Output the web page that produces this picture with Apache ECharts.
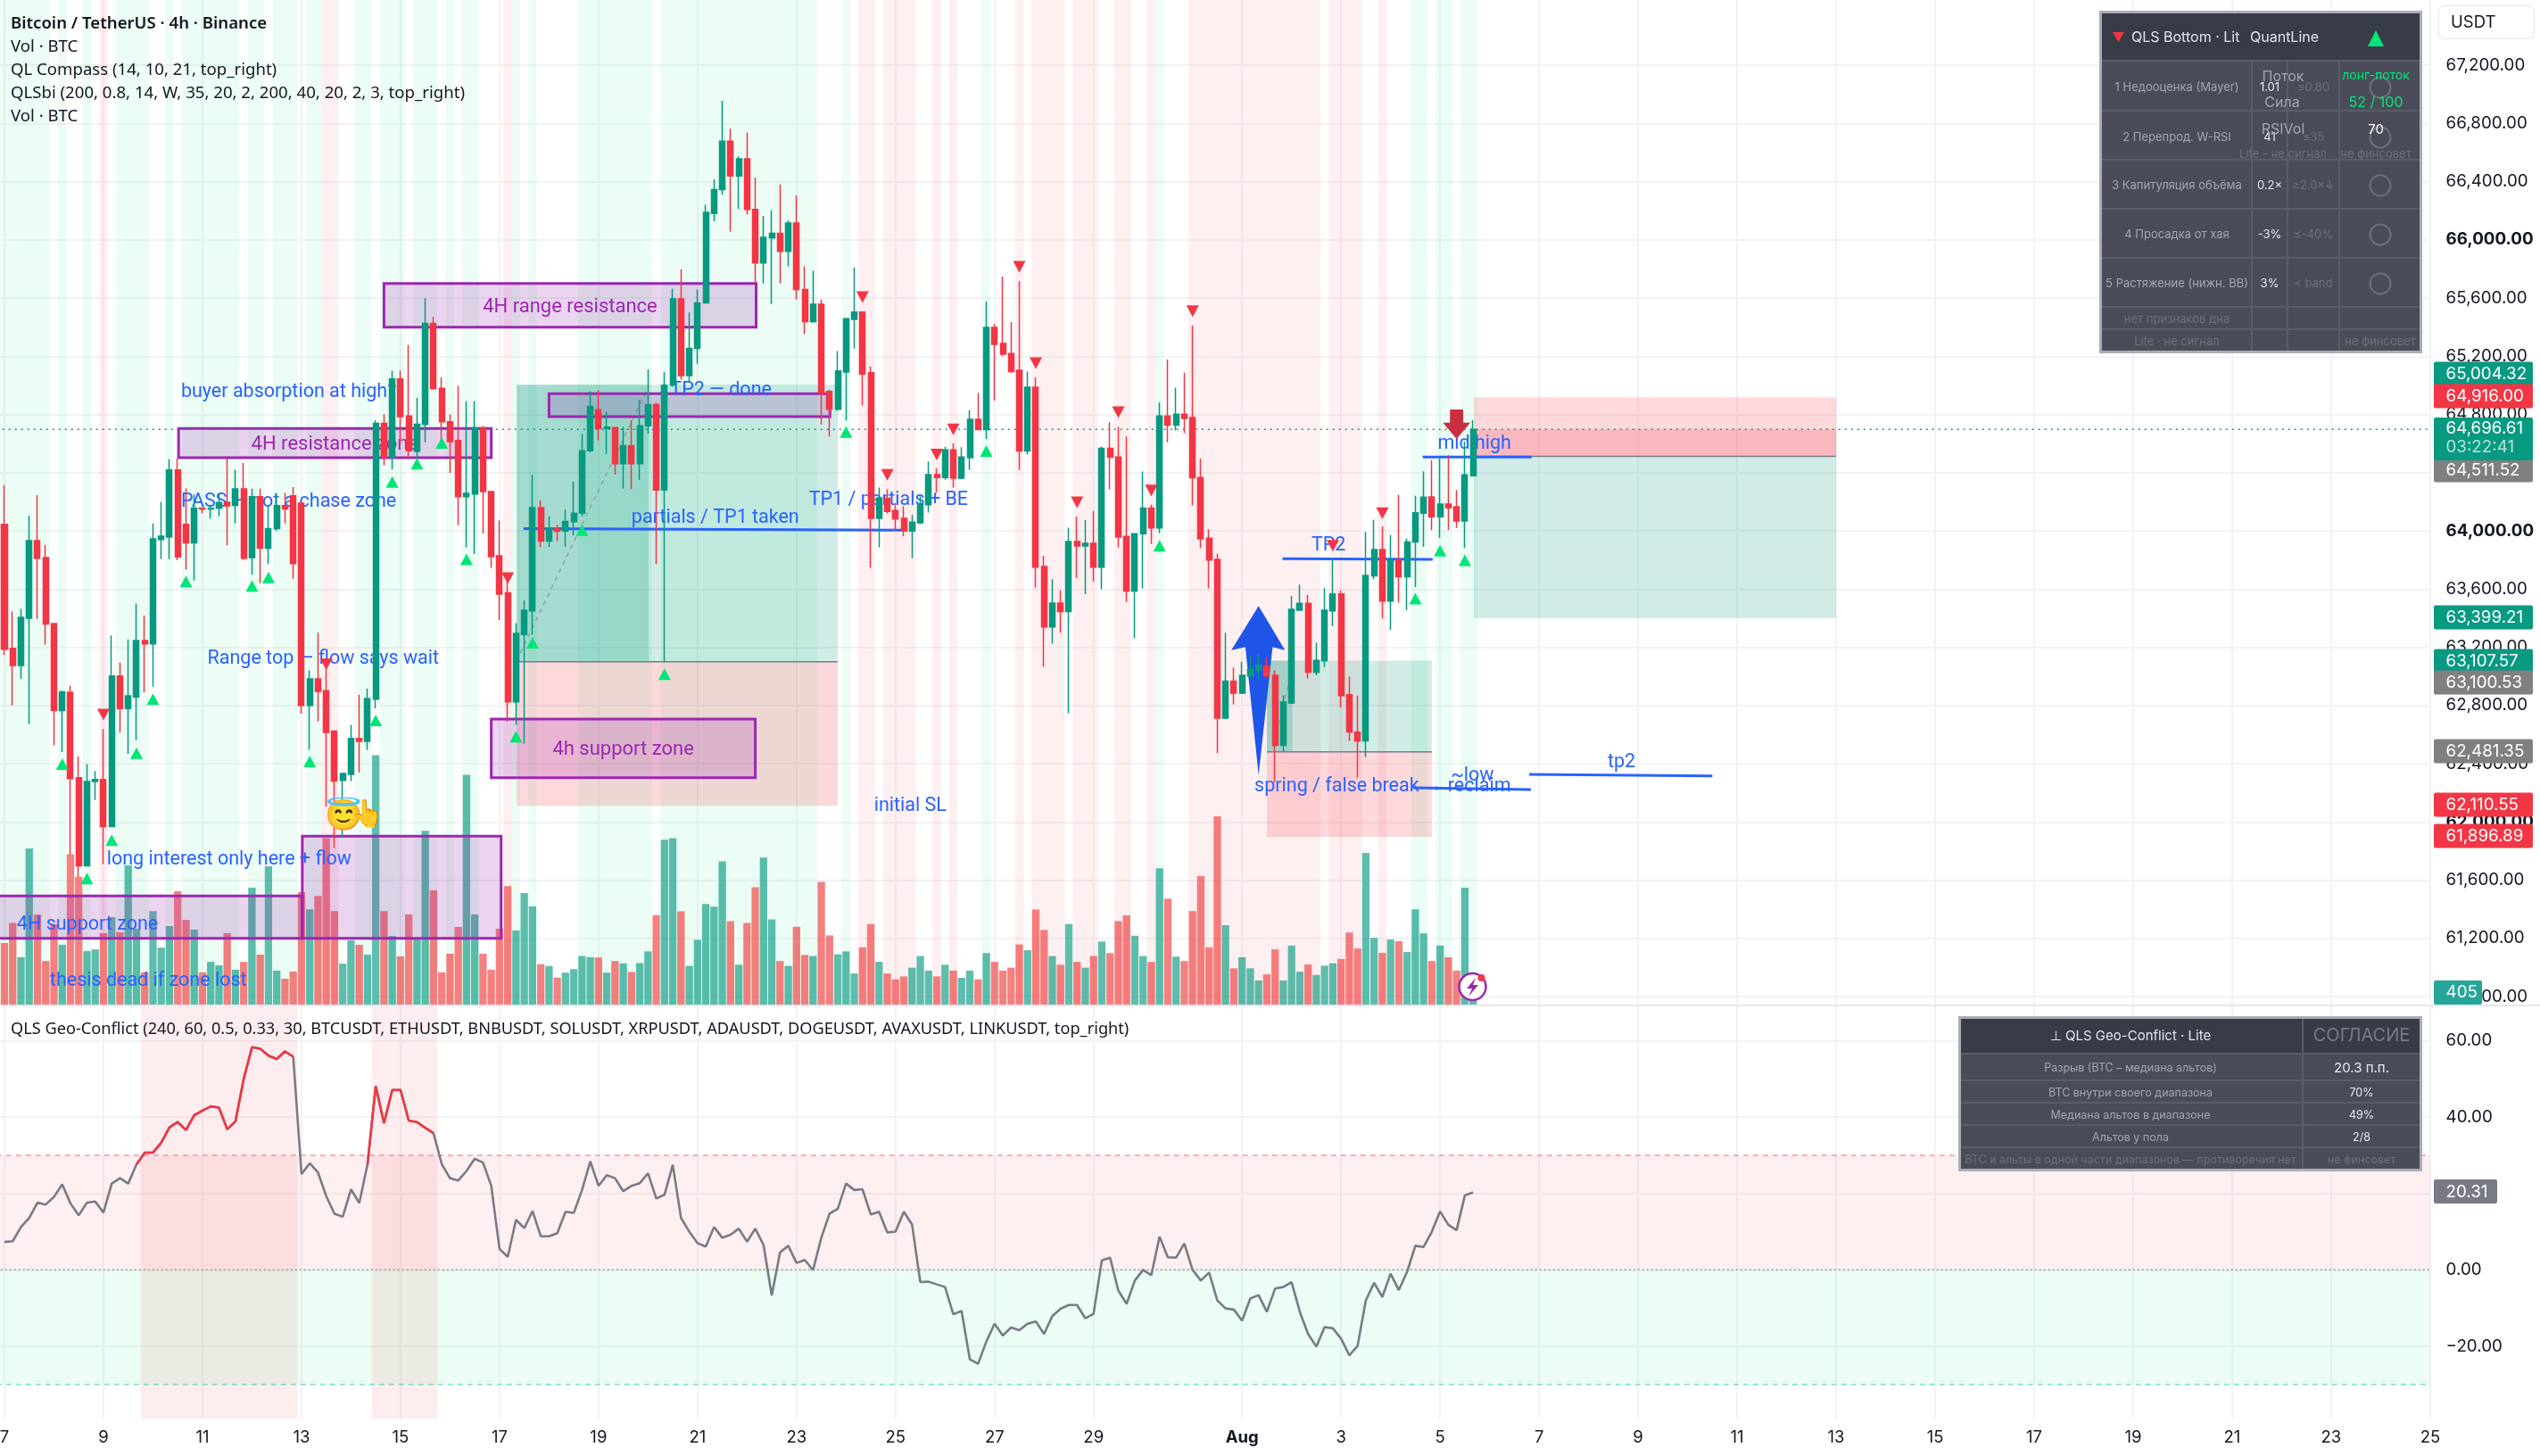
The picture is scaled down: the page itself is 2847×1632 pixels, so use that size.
<!DOCTYPE html>
<html><head><meta charset="utf-8"><style>html,body{margin:0;padding:0;background:#fff}#c{width:2847px;height:1632px}</style>
<script src="https://cdn.jsdelivr.net/npm/echarts@6/dist/echarts.min.js"></script></head><body><div id="c"></div><script>
const opens=[64044,63192,63075,63399,63933,63816,63363,62765,62890,62303,
61698,62277,62291,61968,63002,62779,62859,63246,63223,63941,
63957,64419,64044,63917,64156,64150,64156,64196,64175,64288,
63816,64234,63880,64016,64173,64240,64190,62800,62983,62901,
62624,62285,62327,62573,62554,62843,64738,64504,65043,64790,
64546,64731,65425,64980,64750,64620,64234,64253,64708,64270,
63828,63574,62824,63288,63450,64159,63929,64016,63999,64063,
64121,64550,64832,64703,64710,64461,64585,64461,64722,64867,
64280,65001,65594,65067,65254,65566,66181,66345,66678,66439,
66556,66209,65841,66012,66045,65920,66115,65658,65437,65557,
64958,64836,65092,65453,65503,65087,64086,64224,64140,64086,
63999,64055,64180,64386,64367,64557,64362,64503,64766,64696,
65397,65287,65219,65104,64548,64987,63755,63340,63504,63445,
63926,63896,63914,63750,64567,64508,63961,63586,63980,64156,
64020,64790,64726,64801,64778,64367,63950,63804,62713,62967,
62885,63002,63046,63072,63007,62526,62817,63455,63502,63028,
63107,63450,63567,62873,62617,62556,63690,63872,63518,63800,
63685,63924,64121,64233,64097,64184,64165,64067,64379];
const closes=[63187,63075,63406,63933,63811,63359,62765,62894,62298,61698,
62277,62291,61968,63002,62779,62866,63246,63223,63945,63964,
64419,63821,63917,64156,64150,64155,64194,64172,64288,63811,
64234,63880,64016,64173,64150,63774,62800,62983,62897,62615,
62280,62333,62573,62554,62847,64738,64504,65043,64785,64550,
64733,65425,64977,64750,64613,64234,64257,64708,64270,63823,
63565,62824,63295,63455,64159,63929,64016,63997,64065,64121,
64550,64855,64703,64712,64461,64585,64461,64722,64867,64280,
65001,65594,65067,65254,65566,66188,66345,66678,66439,66556,
66209,65841,66017,66045,65920,66115,65658,65437,65557,64947,
64836,65099,65458,65503,65078,64086,64227,64133,64081,63999,
64060,64187,64386,64367,64557,64362,64508,64766,64696,65397,
65282,65214,65094,64548,64987,63750,63340,63504,63445,63926,
63896,63914,63750,64567,64506,63957,63586,63980,64156,64020,
64790,64726,64801,64773,64365,63945,63799,62713,62967,62885,
63007,63049,63075,63002,62526,62824,63460,63502,63028,63110,
63455,63567,62868,62617,62556,63694,63872,63518,63800,63685,
63924,64124,64231,64097,64184,64158,64067,64384,64698];
const highs=[64316,63445,63464,64102,64245,63903,63363,62901,62936,62451,
62397,62350,62638,63281,63096,63253,63500,63417,64051,64199,
64492,64496,64292,64250,64160,64180,64260,64496,64420,64468,
64290,64290,64180,64260,64260,64300,64200,63040,63300,63110,
62630,62340,62667,62873,62917,64760,64800,65101,65102,65278,
64914,65599,65470,65055,64800,64996,64890,64890,64720,64270,
64070,63650,63366,63523,64386,64210,64100,64040,64145,64339,
64667,64960,64966,64820,64710,64715,64760,64900,65109,64880,
65090,65665,65798,65500,65658,66240,66415,66955,66763,66573,
66737,66427,66164,66204,66380,66134,66305,65817,65787,65590,
64970,65235,65463,65810,65505,65130,64297,64285,64190,64168,
64110,64238,64477,64430,64578,64602,64574,64829,64947,65575,
65421,65747,65435,65716,65094,65055,63828,63668,63593,64022,
64097,64074,64137,64578,64747,64714,64649,63985,64407,64180,
64883,65177,64984,65087,65411,64496,64011,63844,63300,63061,
63100,63140,63150,63130,63040,62870,63553,63631,63560,63232,
63607,63807,63591,62997,62868,63994,64077,64030,63971,64248,
63948,64240,64410,64485,64496,64520,64280,64615,64760];
const lows=[63148,62800,62983,62671,63394,63218,62526,62479,61775,61620,
61693,62150,61710,61963,62615,62467,62561,62890,62929,63805,
63805,63797,63734,63659,64120,64085,64100,63900,64050,63800,
63700,63640,63770,64000,64050,63670,62744,62495,62690,62105,
61820,61890,62280,62340,62495,62780,64450,64422,64597,64492,
64492,64609,64977,64621,64398,64040,63887,63840,63980,63745,
63387,62690,62666,62538,63288,63887,63890,63930,63891,63969,
64100,64540,64620,64526,64387,64292,64287,64350,64668,63770,
63100,64990,65040,65020,65148,65560,66127,66310,66056,66211,
66174,65700,65700,65559,65700,65817,65590,65353,65430,64731,
64649,64825,64759,65252,64860,63746,63886,64120,64000,63961,
63811,64046,64126,64262,64351,64297,64355,64419,64696,64632,
64895,65200,65085,64419,64524,63610,63065,63225,63300,62746,
63675,63565,63652,63598,64285,63886,63511,63265,63605,63910,
63985,64609,64689,64672,64175,63882,63605,62472,62706,62807,
62885,62995,62983,62995,62270,62481,62810,63455,62986,63009,
63063,63345,62786,62556,62305,62446,63666,63396,63319,63506,
63455,63614,63891,64004,63952,64004,64020,63882,64379];
const volumes=[2150,2840,1660,5400,3130,1530,2790,2090,5200,4430,
1870,1930,2490,3040,2520,4820,2640,1140,3250,1990,
2730,3930,2950,2610,1140,1500,1380,2490,1230,1500,
4050,1750,4790,1200,920,1170,3900,3310,3770,5760,
3250,1440,2240,2090,1750,8610,3250,2390,1690,3130,
2300,6010,3960,1140,1780,2700,7940,3130,1780,1230,
2640,4110,2580,3870,3410,1420,1360,960,1130,1250,
1700,1660,1650,1130,1530,1450,1150,1460,1860,3110,
5700,5760,3240,1360,2260,3490,3400,4960,2900,1400,
2840,4070,5090,2960,1530,1360,2710,1740,1700,4250,
2410,1760,1860,1100,2000,2800,1500,1100,900,1000,
1300,1700,1200,1000,1400,1200,950,1200,900,1800,
1500,1200,1300,2100,1900,3300,2600,1700,1400,2800,
1500,1300,1700,2200,1800,2900,3100,2400,1700,1500,
4720,3680,1680,1530,3250,4450,2000,6510,2760,1280,
1660,1280,860,1070,1930,860,2060,1160,1410,1050,
1370,1450,1600,2510,1960,5250,2330,1810,2270,2210,
1840,3310,2480,1530,2060,1660,1200,4050,405];
const geoValues=[7.3,7.5,11.2,13.6,17.6,17.1,19.1,22.4,17.4,14.3,17.6,17.9,15.0,22.6,24.0,22.6,27.6,30.7,30.7,
33.3,37.3,38.7,36.6,40.5,41.7,42.8,42.5,36.8,38.9,50.0,58.3,57.9,56.1,55.2,57.2,55.8,25.1,27.9,25.5,
19.3,14.7,13.9,21.1,17.5,27.6,48.1,38.4,47.1,47.1,39.1,38.7,37.2,35.8,27.7,24.0,23.4,25.9,29.1,28.1,
22.0,5.5,3.4,13.1,10.9,15.4,8.8,8.8,9.6,15.2,14.9,20.9,28.4,22.0,24.8,24.0,20.6,22.0,22.7,25.3,
18.7,19.7,27.5,13.6,10.0,7.0,6.1,11.2,8.4,9.2,10.8,7.4,10.8,6.5,-6.7,4.6,6.3,1.8,2.6,-0.1,
8.4,14.7,16.0,22.6,20.9,21.1,14.5,15.2,9.8,10.0,15.2,11.9,-3.2,-3.1,-3.8,-4.5,-11.6,-10.8,-23.4,-24.6,
-18.8,-14.1,-17.2,-15.1,-15.8,-14.1,-13.5,-16.8,-12.1,-10.2,-9.2,-9.2,-12.7,-11.5,2.5,3.2,-5.4,-8.9,-2.8,0.0,
-1.4,8.7,3.3,3.2,6.9,0.0,-2.8,-0.7,-8.0,-10.1,-10.4,-13.3,-7.5,-6.6,-11.0,-4.9,-4.5,-3.2,-11.0,-16.8,
-20.1,-15.0,-15.3,-18.0,-22.4,-19.9,-8.0,-3.4,-7.1,-1.0,-5.3,-0.5,6.3,6.0,10.0,15.3,11.8,10.4,19.5,20.31];
const geoRedRanges=[[16,35],[44,52]];
const geoPinkBlocks=[[17,35],[45,52]];
const greenBands=[[0,5],[7,7],[10,10],[14,17],[20,20],[22,28],[30,31],[33,35],[37,38],[43,44],[46,48],[50,52],[54,54],[56,57],[62,62],[64,64],[70,78],[80,98],[102,102],[119,119],[140,140],[171,172],[174,175],[177,178]];
const redBands=[[12,12],[39,40],[61,61],[104,105],[107,110],[113,113],[115,115],[123,123],[125,128],[130,132],[135,136],[139,139],[144,159],[161,164],[167,167]];
const upMarkers=[[7,62397],[10,61611],[13,61874],[16,62472],[18,62843],[22,63652],[30,63621],[32,63680],[37,62416],[45,62697],[47,64335],[50,64461],[53,64604],[56,63804],[62,62585],[64,63230],[70,64004],[80,63014],[102,64679],[119,64548],[140,63898],[171,63534],[174,63863],[177,63797]];
const downMarkers=[[12,62737],[39,63084],[61,63675],[104,65606],[107,64384],[113,64524],[115,64698],[123,65815],[125,65153],[130,64196],[135,64815],[139,64278],[144,65510],[161,63898],[167,64121]];
const xTickLabels=[[0,'7'],[12,'9'],[24,'11'],[36,'13'],[48,'15'],[60,'17'],[72,'19'],[84,'21'],[96,'23'],[108,'25'],[120,'27'],[132,'29'],[150,'Aug'],[162,'3'],[174,'5'],[186,'7'],[198,'9'],[210,'11'],[222,'13'],[234,'15'],[246,'17'],[258,'19'],[270,'21'],[282,'23'],[294,'25']];
const priceTicks=[67200,66800,66400,66000,65600,65200,64800,64400,64000,63600,63200,62800,62400,62000,61600,61200,60800];
const geoTicks=[60,40,20,0,-20];
const purpleZones=[[46,91.1,65700,65400,'4H range resistance'],[21.1,59,64703,64503,'4H resistance zone'],[66,100.05,64942,64785,''],[59,91,62706,62303,'4h support zone'],[-2,36.1,61491,61200,''],[36.1,60.2,61902,61200,'']];
const posGreen=[[62.1,101,63100.53,65004.32],[153,173,62481.35,63107.57],[178.1,222,63399.21,64511.52]];
const posRed=[[62.1,101,62110.55,63100.53],[153,173,61896.89,62481.35],[178.1,222,64511.52,64916]];
const posGreenProgress=[[62.1,78.1,63100.53,65004.32],[153,156.1,62481.35,63107.57]];
const posRedProgress=[[178.1,222,64511.52,64696.61]];
const entryLines=[[62.1,63100.53,101,63100.53],[153,62481.35,173,62481.35],[178.1,64511.52,222,64511.52]];
const blueLines=[[62.9,64016,108.9,64004],[154.9,63809,173.1,63804],[171.9,64507,185.1,64507],[170.7,62235,185,62223],[184.8,62326,207,62315]];
const pathLines=[[62.5,63159,78.1,64996],[154.1,62610,156.3,63091]];
const noteTexts=[[21.4,64963,'buyer absorption at high?'],[21.4,64208,'PASS — not a chase zone'],[24.6,63130,'Range top — flow says wait'],[12.4,61750,'long interest only here + flow'],[1.5,61303,'4H support zone'],[5.5,60917,'thesis dead if zone lost'],[76,64100,'partials / TP1 taken'],[80.7,64978,'TP2 — done'],[97.5,64226,'TP1 / partials + BE'],[158.4,63910,'TP2'],[173.7,64610,'mid high'],[151.5,62253,'spring / false break → reclaim'],[175.3,62330,'~low'],[194.3,62422,'tp2'],[105.4,62118,'initial SL']];
const blueArrow=[[152,63483],[155.2,63180],[153.7,63202],[152,62322],[150.4,63202],[148.7,63180]];
const redArrow=[[175.2,64834],[176.8,64834],[176.8,64743],[177.66,64743],[176,64632],[174.34,64743],[175.2,64743]];
const currentPrice=64696.61;
const legendLines=['Bitcoin / TetherUS · 4h · Binance','Vol · BTC','QL Compass (14, 10, 21, top_right)','QLSbi (200, 0.8, 14, W, 35, 20, 2, 200, 40, 20, 2, 3, top_right)','Vol · BTC'];
const geoLegend='QLS Geo-Conflict (240, 60, 0.5, 0.33, 30, BTCUSDT, ETHUSDT, BNBUSDT, SOLUSDT, XRPUSDT, ADAUSDT, DOGEUSDT, AVAXUSDT, LINKUSDT, top_right)';
const priceTags=[['65,004.32','#089981',419],['64,916.00','#f23645',444],['64,511.52','#808080',527],['63,399.21','#089981',692],['63,107.57','#089981',741],['63,100.53','#808080',765],['62,481.35','#808080',842],['62,110.55','#f23645',902],['61,896.89','#f23645',937]];
const bottomTableRows=[['1 Недооценка (Mayer)','1.01','≤0.80'],['2 Перепрод. W-RSI','41','≤35'],['3 Капитуляция объёма','0.2×','≥2.0×↓'],['4 Просадка от хая','-3%','≤-40%'],['5 Растяжение (нижн. BB)','3%','< band']];
const geoTableRows=[['Разрыв (BTC – медиана альтов)','20.3 п.п.'],['BTC внутри своего диапазона','70%'],['Медиана альтов в диапазоне','49%'],['Альтов у пола','2/8']];

const N=opens.length, SLOTS=296, STEP=9.248, LEFT=-4.248;
const GREEN='#089981', RED='#f23645', FONT='Inter', NOTE='Roboto';
const AX=18.8;
const cats=Array.from({length:SLOTS},(_,k)=>'');
xTickLabels.forEach(([i,t])=>{cats[i+1]=t});
const isTick=(idx)=>cats[idx]!=='';
const candleData=opens.map((o,i)=>[i+1,o,closes[i],lows[i],highs[i]]);
const volData=volumes.map((v,i)=>({value:[i+1,v],itemStyle:{color:closes[i]>=opens[i]?'rgba(8,153,129,.65)':'rgba(240,60,60,.65)'}}));
const inRange=(i,rs)=>rs.some(([a,b])=>i>=a&&i<=b);
const geoAll=geoValues.map((v,i)=>[i+1,v]);
const geoRed=geoValues.map((v,i)=>[i+1,inRange(i,geoRedRanges)?v:null]);

function rects(name,list,style,z,xi=1,yi=0){return {type:'custom',name,coordinateSystem:'cartesian2d',xAxisIndex:xi,yAxisIndex:yi,silent:true,z,clip:true,animation:false,
 data:list,encode:{x:[0,1],y:[2,3]},
 renderItem:(p,api)=>{const a=api.coord([api.value(0),api.value(2)]),b=api.coord([api.value(1),api.value(3)]);
  return {type:'rect',shape:{x:Math.min(a[0],b[0]),y:Math.min(a[1],b[1]),width:Math.abs(a[0]-b[0]),height:Math.abs(a[1]-b[1])},style}}}}
function lines(name,list,style,z,xi=1,yi=0){return {type:'custom',name,coordinateSystem:'cartesian2d',xAxisIndex:xi,yAxisIndex:yi,silent:true,z,clip:true,animation:false,
 data:list,encode:{x:[0,2],y:[1,3]},
 renderItem:(p,api)=>{const a=api.coord([api.value(0),api.value(1)]),b=api.coord([api.value(2),api.value(3)]);
  return {type:'line',shape:{x1:a[0],y1:a[1],x2:b[0],y2:b[1]},style}}}}
function poly(name,pts,fill,z){return {type:'custom',name,coordinateSystem:'cartesian2d',xAxisIndex:1,yAxisIndex:0,silent:true,z,animation:false,
 data:[pts[0]],encode:{x:0,y:1},
 renderItem:(p,api)=>({type:'polygon',shape:{points:pts.map(q=>api.coord(q))},style:{fill}})}}
function texts(name,list,fill,z,center){return {type:'custom',name,coordinateSystem:'cartesian2d',xAxisIndex:1,yAxisIndex:0,silent:true,z,animation:false,
 data:list.map(r=>[r[0],r[1]]),encode:{x:0,y:1},
 renderItem:(p,api)=>{const c=api.coord([api.value(0),api.value(1)]);
  return {type:'text',x:c[0],y:c[1]+2,style:{text:list[p.dataIndex][2],fill,font:(center?'22px ':'21.5px ')+NOTE,align:center?'center':'left',verticalAlign:'middle'}}}}}
const bands=l=>l.map(([a,b])=>[a-.5,b+.5,60000,68000]);
const zoneLabels=purpleZones.filter(z=>z[4]).map(z=>[(z[0]+z[1])/2,(z[2]+z[3])/2,z[4]]);

/* panels */
const G=[];
const R=(x,y,w,h,fill,extra={})=>G.push({type:'rect',z:100,silent:true,shape:{x,y,width:w,height:h,r:extra.r||0},style:{fill,stroke:extra.stroke,lineWidth:extra.lw||0}});
const T=(x,y,text,fill,font,align='center')=>G.push({type:'text',z:101,silent:true,x,y,style:{text,fill,font,align,verticalAlign:'middle'}});
const C=(x,y,r,stroke,lw,fill)=>G.push({type:'circle',z:101,silent:true,shape:{cx:x,cy:y,r},style:{stroke,lineWidth:lw,fill:fill||'none'}});
const L=(x1,y1,x2,y2,stroke,lw)=>G.push({type:'line',z:101,silent:true,shape:{x1,y1,x2,y2},style:{stroke,lineWidth:lw}});
const P=(pts,fill)=>G.push({type:'polygon',z:102,silent:true,shape:{points:pts},style:{fill}});
legendLines.forEach((t,i)=>T(12,[27,53,79,105,131][i],t,'#131722',(i==0?'600 ':'')+'18.6px "Noto Sans"','left'));
T(12,1154,geoLegend,'#131722','18.2px "Noto Sans"','left');
// top-right table
R(2353,12,362,384,'#abadb6');
R(2356,15,356,378,'#4a4d59');
R(2356,15,356,53,'#383c48');
[68,124,179,234,289,344,369].forEach(y=>L(2356,y,2712,y,'#5a5d68',2));
[2524,2564,2622].forEach(x=>L(x,68,x,393,'#5a5d68',2));
P([[2368,36],[2381,36],[2374.5,47]],'#f23645');
T(2389,42,'QLS Bottom · Lit','#e0e3eb','16px '+FONT,'left');
T(2522,42,'QuantLine','#e0e3eb','16px '+FONT,'left');
P([[2663,34],[2672,52],[2654,52]],'#00e676');
[98,154,208,263,318].forEach((y,i)=>{const r=bottomTableRows[i];
 T(2440,y,r[0],'#a3a6af','13px '+FONT);T(2544,y,r[1],'#e6e8ee','13px '+FONT);T(2593,y,r[2],'#6d707b','13px '+FONT);C(2668,y,11.5,'#6d707b',2);});
T(2440,358,'нет признаков дна','#6d707b','13px '+FONT);
T(2440,383,'Lite · не сигнал','#6d707b','13px '+FONT);
T(2668,383,'не финсовет','#6d707b','13px '+FONT);
T(2559,86,'Поток','#a3a6af','16px '+FONT);T(2558,115,'Сила','#a3a6af','16px '+FONT);T(2559,145,'RSIVol','#a3a6af','16px '+FONT);
T(2663,85,'лонг-поток','#00e676','14px '+FONT);T(2663,115,'52 / 100','#00e676','16px '+FONT);T(2663,145,'70','#ffffff','15px '+FONT);
T(2559,173,'Lite - не сигнал','#6d707b','13px '+FONT);T(2663,173,'не финсовет','#6d707b','13px '+FONT);
// geo table
R(2195,1139,520,174,'#abadb6');
R(2198,1142,514,168,'#4a4d59');
R(2198,1142,514,39,'#383c48');
[1181,1211,1236,1261,1286].forEach(y=>L(2198,y,2712,y,'#5a5d68',2));
L(2581,1142,2581,1310,'#5a5d68',2);
T(2388,1161,'⊥ QLS Geo-Conflict · Lite','#e0e3eb','15px '+FONT);
T(2647,1161,'СОГЛАСИЕ','#787b86','20px '+FONT);
[1197,1225,1250,1275].forEach((y,i)=>{T(2388,y,geoTableRows[i][0],'#a3a6af','12.5px '+FONT);T(2647,y,geoTableRows[i][1],'#e6e8ee',(i==0?'15px ':'12.5px ')+FONT);});
T(2388,1300,'BTC и альты в одной части диапазонов — противоречия нет','#6d707b','12.5px '+FONT);
T(2647,1300,'не финсовет','#6d707b','12.5px '+FONT);
// USDT, tags
R(2733.5,6.5,107,37,'#fff',{stroke:'#e0e3eb',lw:1,r:6});
T(2747,25,'USDT','#131722','18.5px '+FONT,'left');
priceTags.forEach(([t,c,y])=>{R(2728,y-13.5,111,27,c,{r:2});T(2741.5,y,t,'#fff',AX+'px '+FONT,'left');});
R(2728,468,111,48,GREEN,{r:2});T(2741.5,480,'64,696.61','#fff',AX+'px '+FONT,'left');T(2741.5,501,'03:22:41','rgba(255,255,255,.7)',AX+'px '+FONT,'left');
R(2728,1099,54,27,'#26a69a',{r:2});T(2741.5,1112,'405','#fff',AX+'px '+FONT,'left');
R(2728,1322,71,27,'#787b86',{r:2});T(2741.5,1336,'20.31','#fff',AX+'px '+FONT,'left');
// emoji + flash icon
T(386,915,'😇','#f5c33b','34px "Noto Color Emoji","DejaVu Sans"');
T(412,913,'👆','#ffd54f','30px "Noto Color Emoji","DejaVu Sans"');
C(1650.5,1106,15,'#9c27b0',2.5,'#fff');
P([[1654,1096],[1644,1108],[1650,1108],[1646,1117],[1657,1104],[1651,1104]],'#9c27b0');
C(1660.5,1096,4,'#f23645',0,'#f23645');
// pane separator
L(0,1127,2847,1127,'#e6e8ee',2);

const opt={animation:false,backgroundColor:'#fff',
grid:[{left:LEFT,top:0,width:STEP*(SLOTS-1),height:1127,outerBoundsMode:'none',containLabel:false},{left:LEFT,top:1128,width:STEP*(SLOTS-1),height:462,outerBoundsMode:'none',containLabel:false}],
xAxis:[
 {type:'category',gridIndex:0,data:cats,boundaryGap:false,axisLine:{show:false},axisTick:{show:false},axisLabel:{show:false},splitLine:{show:true,interval:(i)=>isTick(i),lineStyle:{color:'#f2f3f6',width:2}}},
 {type:'value',gridIndex:0,min:-1,max:294,show:false,splitLine:{show:false}},
 {type:'category',gridIndex:1,data:cats,boundaryGap:false,axisLine:{show:false},axisTick:{show:false},splitLine:{show:true,interval:(i)=>isTick(i),lineStyle:{color:'#f2f3f6',width:2}},
  axisLabel:{interval:(i)=>isTick(i),hideOverlap:false,margin:12,formatter:v=>v==='Aug'?'{b|Aug}':v,color:'#131722',fontFamily:FONT,fontSize:18.5,rich:{b:{fontWeight:'bold',fontFamily:FONT,fontSize:18.5,color:'#131722'}}}},
 {type:'value',gridIndex:1,min:-1,max:294,show:false,splitLine:{show:false}}
],
yAxis:[
 {type:'value',gridIndex:0,position:'right',min:60738.7,max:67647.6,axisLine:{show:false},
  axisTick:{show:false,customValues:priceTicks},splitLine:{show:true,lineStyle:{color:'#f2f3f6',width:2}},
  axisLabel:{customValues:priceTicks,margin:17.7,color:'#131722',fontFamily:FONT,fontSize:AX,
   formatter:v=>{const s=v.toLocaleString('en-US',{minimumFractionDigits:2,maximumFractionDigits:2});return v%2000===0?'{b|'+s+'}':s},
   rich:{b:{fontWeight:'bold',fontFamily:FONT,fontSize:AX,color:'#131722'}}}},
 {type:'value',gridIndex:0,min:0,max:34600,show:false,splitLine:{show:false}},
 {type:'value',gridIndex:1,position:'right',min:-38.93,max:69,axisLine:{show:false},
  axisTick:{show:false,customValues:geoTicks},splitLine:{show:true,lineStyle:{color:'#f2f3f6',width:2}},
  axisLabel:{customValues:geoTicks,margin:17.7,color:'#131722',fontFamily:FONT,fontSize:AX,
   formatter:v=>(v<0?'−':'')+Math.abs(v).toFixed(2)}}
],
series:[
 rects('greenBands',bands(greenBands),{fill:'rgba(0,230,118,.08)'},1),
 rects('redBands',bands(redBands),{fill:'rgba(242,54,69,.08)'},1),
 {type:'bar',name:'Vol',xAxisIndex:0,yAxisIndex:1,data:volData,barWidth:8.3,z:2,silent:true,encode:{x:0,y:1}},
 rects('posGreen',posGreen,{fill:'rgba(8,153,129,.19)'},3),
 rects('posRed',posRed,{fill:'rgba(242,54,69,.19)'},3),
 rects('posGreenProgress',posGreenProgress,{fill:'rgba(8,153,129,.22)'},3),
 rects('posRedProgress',posRedProgress,{fill:'rgba(242,54,69,.2)'},3),
 lines('entry',entryLines,{stroke:'#787b86',lineWidth:1.5},3),
 lines('path',pathLines,{stroke:'#9a9ca5',lineWidth:1.5,lineDash:[5,5]},3),
 rects('purple',purpleZones.map(z=>z.slice(0,4)),{fill:'rgba(156,39,176,.2)',stroke:'#9c27b0',lineWidth:3},4),
 texts('zoneText',zoneLabels,'#9c27b0',4,true),
 texts('notes',noteTexts,'#2962ff',4,false),
 poly('blueArrow',blueArrow,'#1f55e8',4),
 lines('blue',blueLines,{stroke:'#2962ff',lineWidth:3},5),
 lines('price',[[-1,currentPrice,294,currentPrice]],{stroke:GREEN,lineWidth:1.5,lineDash:[2,5]},5),
 {type:'candlestick',name:'BTC',xAxisIndex:0,yAxisIndex:0,data:candleData,encode:{x:0,y:[1,2,3,4]},barWidth:6.5,z:6,silent:true,
  itemStyle:{color:GREEN,color0:RED,borderColor:GREEN,borderColor0:RED,borderWidth:1.5}},
 {type:'scatter',name:'up',xAxisIndex:1,yAxisIndex:0,data:upMarkers,symbol:'triangle',symbolSize:[14,13],itemStyle:{color:'#00e676',opacity:1},z:7,silent:true},
 {type:'scatter',name:'down',xAxisIndex:1,yAxisIndex:0,data:downMarkers,symbol:'triangle',symbolRotate:180,symbolSize:[14,13],itemStyle:{color:RED,opacity:1},z:7,silent:true},
 poly('redArrow',redArrow,'#c92f40',8),
 rects('geoRedZone',[[-1,294,0,30]],{fill:'rgba(242,54,69,.08)'},1,3,2),
 rects('geoGreenZone',[[-1,294,-30,0]],{fill:'rgba(0,230,118,.08)'},1,3,2),
 rects('geoPink',geoPinkBlocks.map(([a,b])=>[a-.5,b+.5,-38.93,69]),{fill:'rgba(242,54,69,.09)'},1,3,2),
 lines('g30',[[-1,30,294,30]],{stroke:'rgba(242,54,69,.5)',lineWidth:1.5,lineDash:[6,5]},2,3,2),
 lines('g-30',[[-1,-30,294,-30]],{stroke:'rgba(0,200,140,.5)',lineWidth:1.5,lineDash:[6,5]},2,3,2),
 lines('g0',[[-1,0,294,0]],{stroke:'#9a9ca5',lineWidth:1.5,lineDash:[2,3]},2,3,2),
 {type:'line',name:'geo',xAxisIndex:2,yAxisIndex:2,data:geoAll,encode:{x:0,y:1},showSymbol:false,lineStyle:{color:'#787b86',width:2.6},z:4,silent:true},
 {type:'line',name:'geoHot',xAxisIndex:2,yAxisIndex:2,data:geoRed,encode:{x:0,y:1},showSymbol:false,connectNulls:false,lineStyle:{color:RED,width:2.6},z:5,silent:true}
],
graphic:{elements:G}};
const chart=echarts.init(document.getElementById('c'),null,{width:2847,height:1632});
chart.setOption(opt);
</script></body></html>
